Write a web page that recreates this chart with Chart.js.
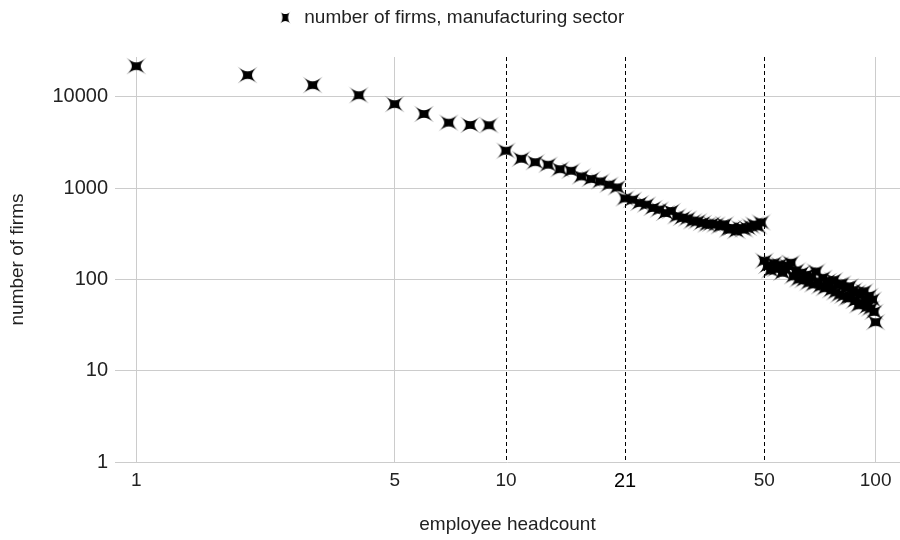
<!DOCTYPE html>
<html>
<head>
<meta charset="utf-8">
<title>Firms by employee headcount</title>
<script src="https://cdn.jsdelivr.net/npm/chart.js@4.4.1/dist/chart.umd.min.js"></script>
<style>
  html, body { margin: 0; padding: 0; background: #ffffff; }
  #wrap { width: 900px; height: 540px; }
</style>
</head>
<body>
<div id="wrap"><canvas id="chart" width="900" height="540"></canvas></div>
<script>
// Employee headcount (x) and number of manufacturing firms of that size (y)
const headcount = [
  1, 2, 3, 4, 5, 6, 7, 8, 9, 10,
  11, 12, 13, 14, 15, 16, 17, 18, 19, 20,
  21, 22, 23, 24, 25, 26, 27, 28, 29, 30,
  31, 32, 33, 34, 35, 36, 37, 38, 39, 40,
  41, 42, 43, 44, 45, 46, 47, 48, 49, 50,
  51, 52, 53, 54, 55, 56, 57, 58, 59, 60,
  61, 62, 63, 64, 65, 66, 67, 68, 69, 70,
  71, 72, 73, 74, 75, 76, 77, 78, 79, 80,
  81, 82, 83, 84, 85, 86, 87, 88, 89, 90,
  91, 92, 93, 94, 95, 96, 97, 98, 99, 100
];
const firms = [
  21600, 17250, 13400, 10400, 8300, 6470, 5200, 4900, 4870, 2560,
  2090, 1920, 1800, 1610, 1545, 1340, 1254, 1180, 1086, 1015,
  770, 745, 685, 658, 605, 580, 533, 560, 490, 471,
  463, 432, 432, 415, 398, 405, 398, 381, 400, 351,
  366, 337, 366, 351, 366, 381, 398, 380, 420, 160,
  140, 125, 150, 130, 145, 118, 128, 140, 152, 108,
  125, 100, 118, 98, 112, 92, 106, 88, 122, 95,
  84, 104, 80, 96, 88, 76, 98, 72, 86, 68,
  90, 66, 80, 62, 84, 64, 76, 58, 72, 52,
  68, 55, 74, 57, 50, 66, 48, 60, 44, 34
];

// Axis ticks and the size thresholds marked with dashed lines
const xTicks = [1, 5, 10, 21, 50, 100];
const yTicks = [1, 10, 100, 1000, 10000];
const thresholds = [10, 21, 50];

const seriesLabel = 'number of firms, manufacturing sector';
const FONT = '"Liberation Sans", Arial, Helvetica, sans-serif';
const TEXT = '#222222';
const GRID = '#cccccc';

// Four-pointed concave star used as the point marker
function makeStar(w, h, pinch) {
  const cv = document.createElement('canvas');
  cv.width = w; cv.height = h;
  const g = cv.getContext('2d');
  const cx = w / 2, cy = h / 2, rx = w / 2 - 0.5, ry = h / 2 - 0.5;
  const tips = [[1, 1], [-1, 1], [-1, -1], [1, -1]].map(([sx, sy]) => [cx + sx * rx, cy + sy * ry]);
  g.beginPath();
  g.moveTo(tips[0][0], tips[0][1]);
  for (let i = 0; i < 4; i++) {
    const a = tips[i], b = tips[(i + 1) % 4];
    g.bezierCurveTo(
      cx + (a[0] - cx) * pinch, cy + (a[1] - cy) * pinch,
      cx + (b[0] - cx) * pinch, cy + (b[1] - cy) * pinch,
      b[0], b[1]);
  }
  g.closePath();
  g.fillStyle = '#000000';
  g.fill();
  return cv;
}
const pointMark = makeStar(21, 18, 0.26);
const legendMark = makeStar(11, 13, 0.42);

// Dashed vertical lines at the headcount thresholds
const thresholdLines = {
  id: 'thresholdLines',
  beforeDatasetsDraw(chart) {
    const { ctx, chartArea: { top, bottom }, scales: { x } } = chart;
    ctx.save();
    ctx.strokeStyle = '#000000';
    ctx.lineWidth = 1;
    ctx.setLineDash([4, 3]);
    thresholds.forEach(v => {
      const px = Math.round(x.getPixelForValue(v)) + 0.5;
      ctx.beginPath();
      ctx.moveTo(px, top);
      ctx.lineTo(px, bottom);
      ctx.stroke();
    });
    ctx.restore();
  }
};

// Reserve room above the plot for the legend
const legendSpace = {
  id: 'legendSpace',
  beforeInit(chart) {
    const fit = chart.legend.fit;
    chart.legend.fit = function () {
      fit.call(this);
      this.height = 57;
    };
  }
};

new Chart(document.getElementById('chart'), {
  type: 'scatter',
  data: {
    datasets: [{
      label: seriesLabel,
      data: headcount.map((x, i) => ({ x, y: firms[i] })),
      pointStyle: pointMark,
      pointRadius: 9,
      backgroundColor: '#000000',
      borderColor: '#000000',
      clip: false
    }]
  },
  options: {
    responsive: false,
    animation: false,
    layout: { autoPadding: false, padding: { left: 0, right: 0, top: 0, bottom: 0 } },
    plugins: {
      tooltip: { enabled: false },
      legend: {
        position: 'top',
        align: 'center',
        labels: {
          usePointStyle: true,
          padding: 8,
          color: TEXT,
          font: { family: FONT, size: 19 },
          generateLabels(chart) {
            const items = Chart.defaults.plugins.legend.labels.generateLabels(chart);
            items.forEach(it => { it.pointStyle = legendMark; });
            return items;
          }
        }
      }
    },
    scales: {
      x: {
        type: 'logarithmic',
        min: 0.8758,
        max: 116.4,
        afterBuildTicks(scale) { scale.ticks = xTicks.map(v => ({ value: v })); },
        afterFit(scale) {
          scale.height = 78;
          scale.paddingLeft = 0;
          scale.paddingRight = 0;
        },
        ticks: {
          padding: 7,
          autoSkip: false,
          maxRotation: 0,
          callback: v => String(v),
          color: ctx => (ctx.tick && ctx.tick.value === 21 ? '#000000' : TEXT),
          font: ctx => ({ family: FONT, size: (ctx.tick && ctx.tick.value === 21) ? 20 : 19 })
        },
        grid: {
          drawTicks: false,
          lineWidth: 1,
          color: ctx => (ctx.tick && thresholds.includes(ctx.tick.value) ? 'rgba(0,0,0,0)' : GRID)
        },
        border: { display: false },
        title: {
          display: true,
          text: 'employee headcount',
          color: TEXT,
          font: { family: FONT, size: 19 },
          padding: { top: 0, bottom: 4 }
        }
      },
      y: {
        type: 'logarithmic',
        min: 1,
        max: 27200,
        afterBuildTicks(scale) { scale.ticks = yTicks.map(v => ({ value: v })); },
        afterFit(scale) {
          scale.width = 115;
          scale.paddingTop = 0;
          scale.paddingBottom = 0;
        },
        ticks: {
          padding: 7,
          autoSkip: false,
          callback: v => String(v),
          color: TEXT,
          font: { family: FONT, size: 20 }
        },
        grid: { drawTicks: false, lineWidth: 1, color: GRID },
        border: { display: false },
        title: {
          display: true,
          text: 'number of firms',
          color: TEXT,
          font: { family: FONT, size: 19 },
          padding: { top: 6, bottom: 0 }
        }
      }
    }
  },
  plugins: [thresholdLines, legendSpace]
});
</script>
</body>
</html>
